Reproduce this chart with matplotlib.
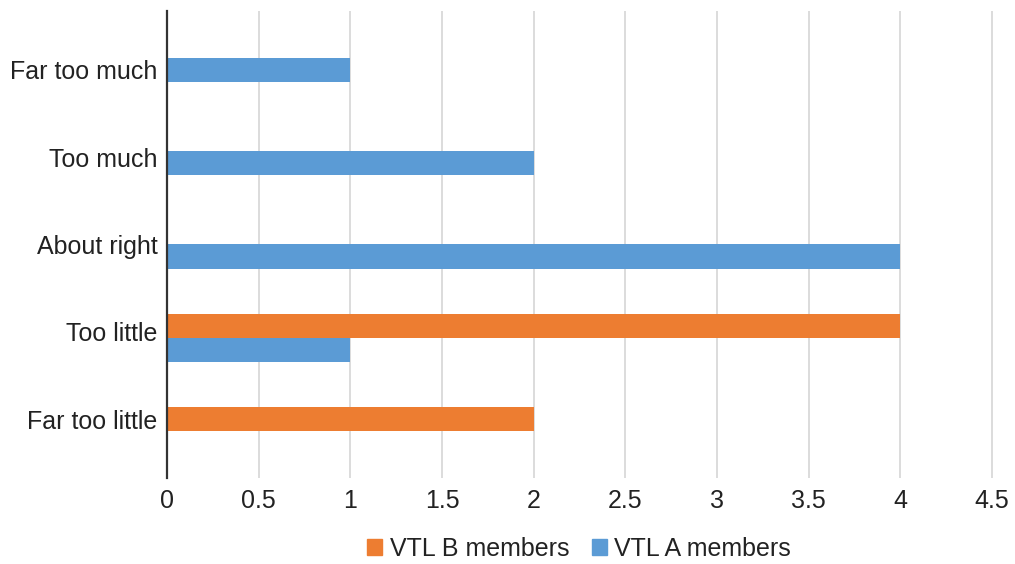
import numpy as np
import matplotlib
matplotlib.use("Agg")
from matplotlib import pyplot as plt
from matplotlib.patches import Patch

# Answer categories, top to bottom
categories = ["Far too much", "Too much", "About right", "Too little", "Far too little"]
vtl_b = [0, 0, 0, 4, 2]
vtl_a = [1, 2, 4, 1, 0]
x_ticks = [0, 0.5, 1, 1.5, 2, 2.5, 3, 3.5, 4, 4.5]
x_tick_labels = ["0", "0.5", "1", "1.5", "2", "2.5", "3", "3.5", "4", "4.5"]

orange = "#ED7D31"
blue = "#5B9BD5"

plt.rcParams["font.family"] = ["Liberation Sans", "DejaVu Sans"]

fig = plt.figure(figsize=(10.15, 5.64), dpi=100)
W, H = 1015, 564
ax = fig.add_axes([167 / W, 1 - 478 / H, (1001 - 167) / W, (478 - 11) / H])

y = np.arange(len(categories))
h = 0.26
ax.barh(y - h / 2, vtl_b, height=h, color=orange, zorder=3)
ax.barh(y + h / 2, vtl_a, height=h, color=blue, zorder=3)

ax.set_ylim(len(categories) - 0.5, -0.5)
ax.set_xlim(0, 4.55)
# labels in the source sit a bit closer together than the bar groups
mid = (len(categories) - 1) / 2
ax.set_yticks(mid + (y - mid) * 0.936)
ax.set_yticklabels(categories)
ax.set_xticks(x_ticks)
ax.set_xticklabels(x_tick_labels)
ax.tick_params(axis="both", length=0, labelsize=18, colors="#222222")
ax.tick_params(axis="y", pad=7)
ax.tick_params(axis="x", pad=8)

ax.grid(axis="x", color="#d9d9d9", linewidth=1.3, zorder=0)
ax.set_axisbelow(True)
for side in ["top", "right", "bottom"]:
    ax.spines[side].set_visible(False)
ax.spines["left"].set_color("#333333")
ax.spines["left"].set_linewidth(1.6)
ax.spines["left"].set_zorder(4)

handles = [Patch(color=orange, label="VTL B members"),
           Patch(color=blue, label="VTL A members")]
fig.legend(handles=handles, loc="center", bbox_to_anchor=(579 / W, 1 - 549 / H),
           ncol=2, frameon=False, fontsize=18, handlelength=0.6, handleheight=0.6,
           handletextpad=0.3, columnspacing=0.9, borderpad=0, labelcolor="#222222")

fig.savefig("out.png", dpi=100)
